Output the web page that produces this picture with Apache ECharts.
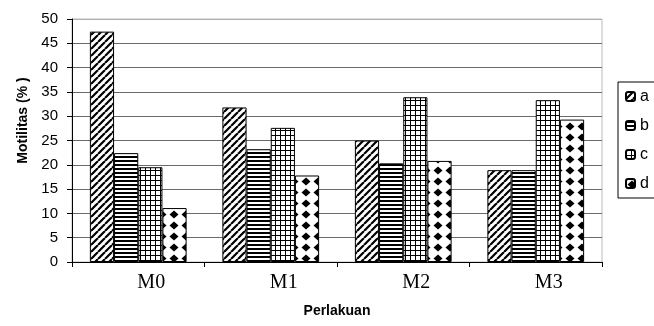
<!DOCTYPE html>
<html>
<head>
<meta charset="utf-8">
<script src="https://cdn.jsdelivr.net/npm/echarts@6/dist/echarts.min.js"></script>
<style>
  html, body { margin: 0; padding: 0; background: #fff; }
  #main { width: 654px; height: 326px; }
</style>
</head>
<body>
<div id="main"></div>
<script>
  // data
  var categories = ['M0', 'M1', 'M2', 'M3'];
  var seriesNames = ['a', 'b', 'c', 'd'];
  var valA = [47.4, 31.8, 25.0, 18.9];
  var valB = [22.4, 23.2, 20.3, 18.9];
  var valC = [19.5, 27.6, 33.9, 33.3];
  var valD = [11.1, 17.8, 20.8, 29.3];
  var yTicks = [0, 5, 10, 15, 20, 25, 30, 35, 40, 45, 50];

  // hatch fills like the old excel print
  function makePattern(kind) {
    var c = document.createElement('canvas');
    var ctx = c.getContext('2d');
    var w, h;
    if (kind === 'diag') { w = 7; h = 7; }
    else if (kind === 'horiz') { w = 4; h = 4; }
    else if (kind === 'grid') { w = 5; h = 5; }
    else { w = 12; h = 11; }
    c.width = w; c.height = h;
    ctx.fillStyle = '#fff';
    ctx.fillRect(0, 0, w, h);
    ctx.fillStyle = '#000';
    ctx.strokeStyle = '#000';
    if (kind === 'diag') {
      ctx.lineWidth = 2.2;
      ctx.beginPath();
      for (var k = -1; k <= 1; k++) {
        ctx.moveTo(k * w, h);
        ctx.lineTo(k * w + w, 0);
      }
      ctx.stroke();
    } else if (kind === 'horiz') {
      ctx.fillRect(0, 0, w, 2);
    } else if (kind === 'grid') {
      ctx.fillRect(0, 0, w, 1);
      ctx.fillRect(0, 0, 1, h);
    } else {
      ctx.beginPath();
      ctx.moveTo(6, 1.5);
      ctx.lineTo(10.5, 5.5);
      ctx.lineTo(6, 9.5);
      ctx.lineTo(1.5, 5.5);
      ctx.closePath();
      ctx.fill();
    }
    return { image: c, repeat: 'repeat' };
  }

  var fills = [makePattern('diag'), makePattern('horiz'), makePattern('grid'), makePattern('diamond')];
  var allVals = [valA, valB, valC, valD];

  var series = [];
  for (var i = 0; i < seriesNames.length; i++) {
    series.push({
      name: seriesNames[i],
      type: 'bar',
      data: allVals[i],
      barGap: '0%',
      barCategoryGap: '27%',
      itemStyle: {
        color: fills[i],
        borderColor: '#000',
        borderWidth: 1
      }
    });
  }

  var splitColors = yTicks.map(function (t, i) { return i === yTicks.length - 1 ? '#b0b0b0' : '#6a6a6a'; });

  var option = {
    animation: false,
    backgroundColor: '#fff',
    grid: {
      left: 72, right: 52, top: 19, bottom: 64,
      show: true,
      borderColor: '#bbbbbb',
      borderWidth: 1
    },
    legend: {
      orient: 'vertical',
      left: 618,
      top: 82,
      padding: [6, 40, 6, 7],
      itemGap: 12,
      itemWidth: 9,
      itemHeight: 9,
      borderColor: '#000',
      borderWidth: 1,
      borderRadius: 0,
      data: seriesNames,
      textStyle: { fontFamily: 'Liberation Sans', fontSize: 16, color: '#000', lineHeight: 17 }
    },
    xAxis: {
      type: 'category',
      data: categories,
      name: 'Perlakuan',
      nameLocation: 'middle',
      nameGap: 42,
      nameTextStyle: { fontFamily: 'Liberation Sans', fontSize: 14, fontWeight: 'bold', color: '#000' },
      axisLine: { lineStyle: { color: '#000', width: 1 } },
      axisTick: { show: true, length: 5, lineStyle: { color: '#000' } },
      axisLabel: {
        fontFamily: 'Liberation Serif',
        fontSize: 20,
        color: '#000',
        margin: 11,
        padding: [0, 0, 0, 26]
      },
      splitLine: { show: false }
    },
    yAxis: {
      type: 'value',
      min: 0,
      max: 50,
      interval: 5,
      name: 'Motilitas (% )',
      nameLocation: 'middle',
      nameGap: 42,
      nameRotate: 90,
      nameTextStyle: {
        fontFamily: 'Liberation Sans', fontSize: 14, fontWeight: 'bold', color: '#000',
        padding: [0, 0, 0, 40]
      },
      axisLine: { show: true, lineStyle: { color: '#000', width: 1 } },
      axisTick: { show: true, length: 5, lineStyle: { color: '#000' } },
      axisLabel: {
        fontFamily: 'Liberation Sans',
        fontSize: 15,
        color: '#000',
        margin: 14
      },
      splitLine: { show: true, lineStyle: { color: splitColors, width: 1 } }
    },
    series: series
  };

  var myChart = echarts.init(document.getElementById('main'));
  myChart.setOption(option);
</script>
</body>
</html>
